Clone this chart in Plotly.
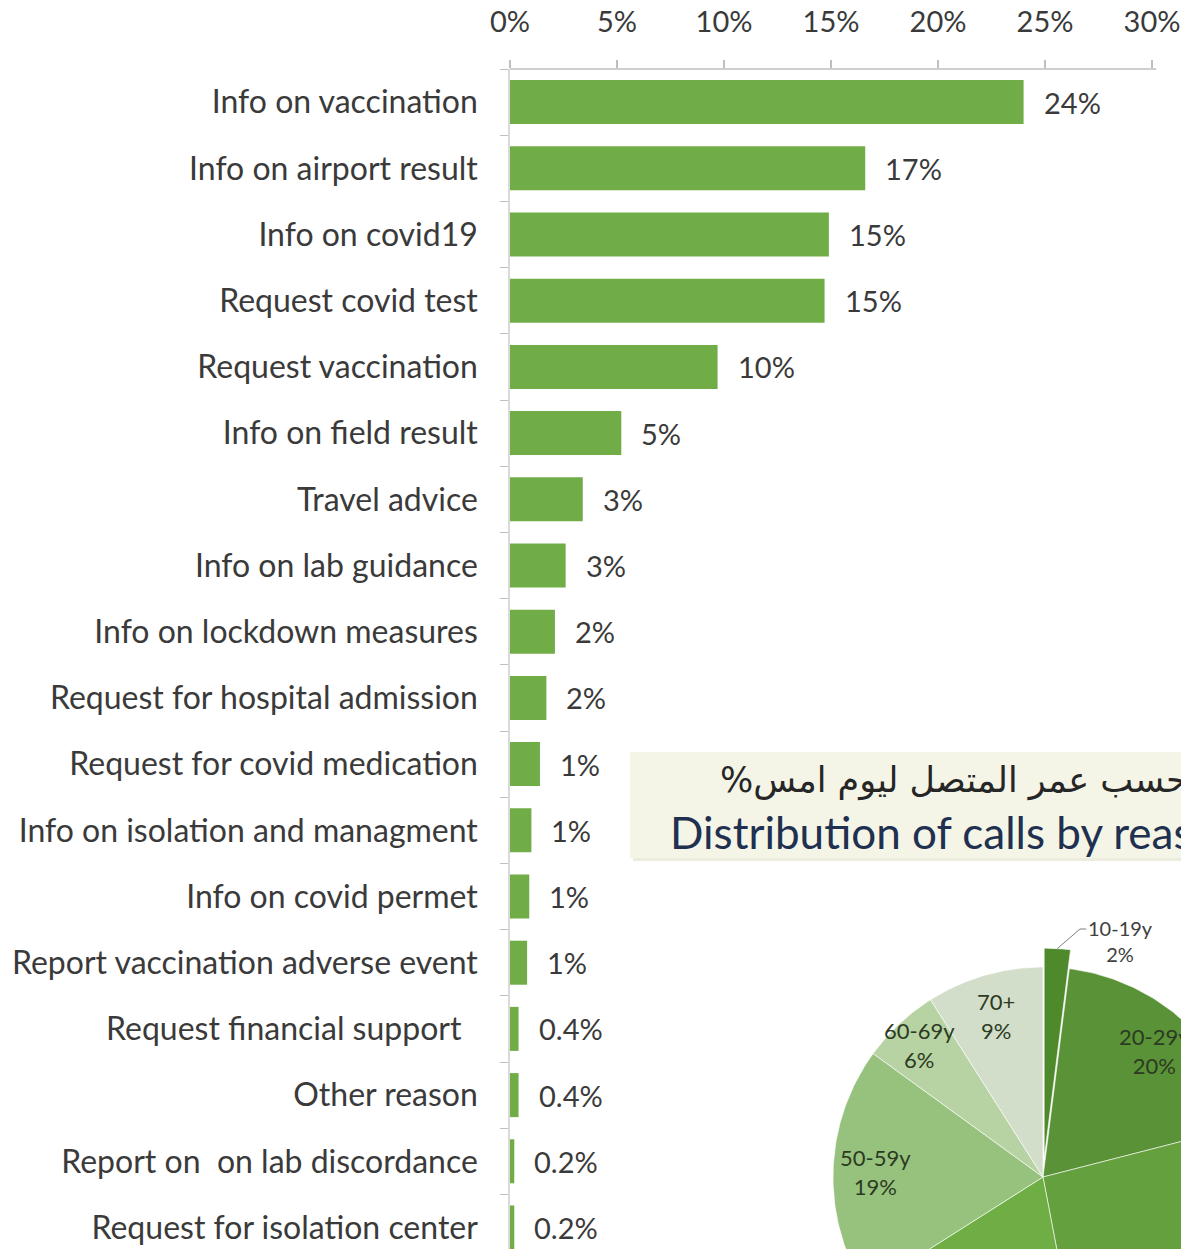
import numpy as np
import plotly.graph_objects as go

# ---------------- data ----------------
categories = [
    "Info on vaccination", "Info on airport result", "Info on covid19",
    "Request covid test", "Request vaccination", "Info on field result",
    "Travel advice", "Info on lab guidance", "Info on lockdown measures",
    "Request for hospital admission", "Request for covid medication",
    "Info on isolation and managment", "Info on covid permet",
    "Report vaccination adverse event", "Request financial support\u00a0\u00a0",
    "Other reason", "Report on\u00a0 on lab discordance", "Request for isolation center",
]
values = [24.0, 16.6, 14.9, 14.7, 9.7, 5.2, 3.4, 2.6, 2.1, 1.7, 1.4, 1.0, 0.9, 0.8,
          0.4, 0.4, 0.2, 0.2]
value_labels = ["24%", "17%", "15%", "15%", "10%", "5%", "3%", "3%", "2%", "2%",
                "1%", "1%", "1%", "1%", "0.4%", "0.4%", "0.2%", "0.2%"]
tick_values = [0, 5, 10, 15, 20, 25, 30]
tick_labels = ["0%", "5%", "10%", "15%", "20%", "25%", "30%"]

age_groups = ["10-19y", "20-29y", "30-39y", "40-49y", "50-59y", "60-69y", "70+"]
age_values = [2, 19, 26, 19, 19, 6, 9]
age_labels = ["2%", "20%", "26%", "19%", "19%", "6%", "9%"]
age_colors = ["#4e8a2c", "#5a9237", "#64a03d", "#6fae44", "#97c27d", "#b7d2a3", "#d2dec9"]

title_ar = "%توزيع المكالمات حسب عمر المتصل ليوم امس"
title_en = "Distribution of calls by reason of call"

# ---------------- geometry ----------------
W, H = 1181, 1249
ML, MT = 510, 69
px_per_pct = 21.4
plot_w = W - ML
plot_h = H - MT
cat_px = 66.2

BAR_COLOR = "#70ad47"
TXT = "#3a3a3a"
FONT = "Lato"


def px_to_paper_x(px):
    return (px - ML) / plot_w


def px_to_paper_y(py):
    return (H - py) / plot_h


fig = go.Figure()

fig.add_trace(go.Bar(
    x=values, y=categories, orientation="h",
    marker=dict(color=BAR_COLOR, line=dict(width=0)),
    hoverinfo="skip", showlegend=False,
))

annotations = []
for v, c, t in zip(values, categories, value_labels):
    annotations.append(dict(
        x=v, y=c, xref="x", yref="y", text=t, showarrow=False,
        xanchor="left", yanchor="middle", xshift=18,
        font=dict(family=FONT, size=29, color=TXT),
    ))

# ---------------- pie (drawn as filled sectors in a second subplot) ----------------
R_PX = 210.0
CX, CY = 1043.0, 1177.0
pie_top = 900.0
x2_range = [(ML - CX) / R_PX, (W - CX) / R_PX]
y2_range = [(CY - H) / R_PX, (CY - pie_top) / R_PX]
y2_dom_top = (H - pie_top) / plot_h

total = float(sum(age_values))
start = 0.0
mid_angles = []
for i, (g, v, col) in enumerate(zip(age_groups, age_values, age_colors)):
    a0 = start / total * 2 * np.pi
    a1 = (start + v) / total * 2 * np.pi
    start += v
    mid = (a0 + a1) / 2
    mid_angles.append(mid)
    off = 0.09 if i == 0 else 0.0
    ox, oy = off * np.sin(mid), off * np.cos(mid)
    th = np.linspace(a0, a1, 80)
    xs = np.concatenate([[ox], ox + np.sin(th), [ox]])
    ys = np.concatenate([[oy], oy + np.cos(th), [oy]])
    fig.add_trace(go.Scatter(
        x=xs, y=ys, xaxis="x2", yaxis="y2", mode="lines", fill="toself",
        fillcolor=col, line=dict(color="rgba(255,255,255,0.6)", width=1),
        hoverinfo="skip", showlegend=False,
    ))

# leader line for the exploded slice
m0 = mid_angles[0]
tip_x, tip_y = 1.09 * np.sin(m0), 1.09 * np.cos(m0)
lab_x, lab_y = (1080 - CX) / R_PX, (CY - 929) / R_PX
fig.add_trace(go.Scatter(
    x=[tip_x, lab_x, lab_x + 0.03], y=[tip_y, lab_y, lab_y],
    xaxis="x2", yaxis="y2", mode="lines",
    line=dict(color="#7f7f7f", width=1), hoverinfo="skip", showlegend=False,
))
annotations.append(dict(
    x=lab_x + 0.03, y=lab_y, xref="x2", yref="y2",
    text=f"{age_groups[0]}<br>{age_labels[0]}", showarrow=False,
    xanchor="left", yanchor="top", yshift=15, align="center",
    font=dict(family=FONT, size=20, color="#404040"),
))
label_r = [1.1, 0.8, 0.8, 0.8, 0.8, 0.86, 0.8]
for i in range(1, len(age_groups)):
    r = label_r[i]
    annotations.append(dict(
        x=r * np.sin(mid_angles[i]), y=r * np.cos(mid_angles[i]),
        xref="x2", yref="y2",
        text=f"{age_groups[i]}<br>{age_labels[i]}", showarrow=False,
        xanchor="center", yanchor="middle", align="center",
        font=dict(family=FONT, size=22, color="#2c3a22"),
    ))

# ---------------- title box ----------------
shapes = [
    dict(type="rect", xref="paper", yref="paper",
         x0=px_to_paper_x(633), x1=px_to_paper_x(W + 20),
         y0=px_to_paper_y(861), y1=px_to_paper_y(755),
         fillcolor="#ecedde", line=dict(width=0), layer="above"),
    dict(type="rect", xref="paper", yref="paper",
         x0=px_to_paper_x(630), x1=px_to_paper_x(W + 20),
         y0=px_to_paper_y(858), y1=px_to_paper_y(752),
         fillcolor="#f4f5e6", line=dict(width=0), layer="above"),
    # top axis line
    dict(type="line", xref="x", yref="paper", x0=-0.3, x1=30.2, y0=1, y1=1,
         line=dict(color="#bfbfbf", width=1.5)),
]
annotations.append(dict(
    x=px_to_paper_x(718), y=px_to_paper_y(780), xref="paper", yref="paper",
    text=title_ar, showarrow=False, xanchor="left", yanchor="middle",
    font=dict(family="DejaVu Sans", size=35, color="#262626"),
))
annotations.append(dict(
    x=px_to_paper_x(668), y=px_to_paper_y(832), xref="paper", yref="paper",
    text=title_en, showarrow=False, xanchor="left", yanchor="middle",
    font=dict(family=FONT, size=44, color="#1f3050"),
))

fig.update_layout(
    width=W, height=H,
    margin=dict(l=ML, r=0, t=MT, b=0, pad=0),
    paper_bgcolor="white", plot_bgcolor="rgba(0,0,0,0)",
    bargap=0.335,
    font=dict(family=FONT, size=29, color=TXT),
    xaxis=dict(
        side="top", range=[0, plot_w / px_per_pct],
        tickvals=tick_values, ticktext=tick_labels,
        showgrid=False, zeroline=False, showline=False,
        ticks="outside", ticklen=8, tickcolor="#bfbfbf", tickwidth=1.5,
        ticklabelstandoff=16,
        tickfont=dict(family=FONT, size=29, color=TXT),
        fixedrange=True,
    ),
    yaxis=dict(
        type="category", categoryorder="array", categoryarray=categories,
        range=[-0.5 + plot_h / cat_px, -0.5],
        showgrid=False, zeroline=False,
        showline=True, linecolor="#d9d9d9", linewidth=1.5,
        ticks="outside", ticklen=8, tickcolor="#bfbfbf", tickson="boundaries",
        ticklabelstandoff=24,
        tickfont=dict(family=FONT, size=32, color=TXT),
        fixedrange=True,
    ),
    xaxis2=dict(domain=[0, 1], anchor="y2", range=x2_range, visible=False,
                fixedrange=True),
    yaxis2=dict(domain=[0, y2_dom_top], anchor="x2", range=y2_range, visible=False,
                fixedrange=True),
    shapes=shapes,
    annotations=annotations,
)

fig.write_html(
    "out.html",
    config={"displayModeBar": False},
    post_script="document.body.style.margin='0px';document.body.style.overflow='hidden';",
)
